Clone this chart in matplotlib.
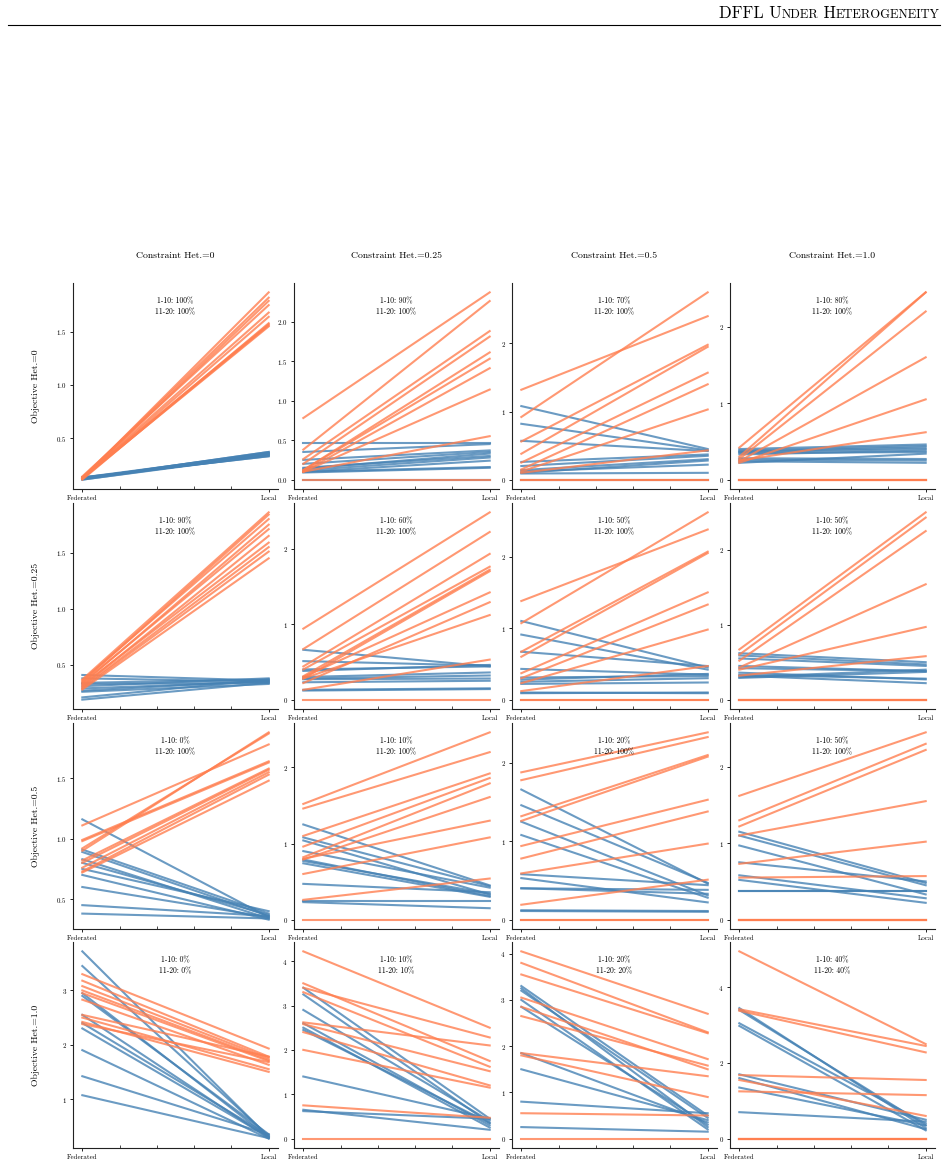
import matplotlib.pyplot as plt
from matplotlib.lines import Line2D
from matplotlib.ticker import MultipleLocator

plt.rcParams['font.family'] = ['cmr10', 'DejaVu Serif']
plt.rcParams['axes.formatter.use_mathtext'] = True
plt.rcParams['mathtext.fontset'] = 'cm'

col_titles = ['Constraint Het.=0', 'Constraint Het.=0.25', 'Constraint Het.=0.5', 'Constraint Het.=1.0']
row_labels = ['Objective Het.=0', 'Objective Het.=0.25', 'Objective Het.=0.5', 'Objective Het.=1.0']
x_labels = ['Federated', 'Local']
pct_1_10 = [[100, 90, 70, 80], [90, 60, 50, 50], [0, 10, 20, 50], [0, 10, 20, 40]]
pct_11_20 = [[100, 100, 100, 100], [100, 100, 100, 100], [100, 100, 100, 100], [0, 10, 20, 40]]
y_steps = [[0.5, 0.5, 1, 1], [0.5, 1, 1, 1], [0.5, 1, 1, 1], [1, 1, 1, 2]]

# (federated, local) per client: clients 1-10 blue, 11-20 orange
blue_0_0 = [(0.12, 0.37), (0.13, 0.36), (0.11, 0.35), (0.12, 0.34), (0.13, 0.33), (0.12, 0.36), (0.12, 0.35), (0.11, 0.34), (0.13, 0.33), (0.12, 0.37)]
orange_0_0 = [(0.12, 1.87), (0.13, 1.82), (0.12, 1.79), (0.14, 1.75), (0.13, 1.68), (0.12, 1.64), (0.11, 1.58), (0.13, 1.57), (0.12, 1.56), (0.12, 1.55)]
blue_0_1 = [(0.46, 0.46), (0.35, 0.45), (0.25, 0.37), (0.20, 0.35), (0.15, 0.30), (0.12, 0.28), (0.10, 0.24), (0.10, 0.16), (0.09, 0.15), (0.14, 0.33), (0.0, 0.0)]
orange_0_1 = [(0.78, 2.37), (0.38, 2.26), (0.26, 1.88), (0.20, 1.81), (0.12, 1.61), (0.12, 1.53), (0.10, 1.41), (0.10, 1.14), (0.10, 0.55), (0.0, 0.0)]
blue_0_2 = [(1.08, 0.45), (0.82, 0.43), (0.57, 0.42), (0.26, 0.37), (0.20, 0.35), (0.14, 0.30), (0.12, 0.22), (0.09, 0.10), (0.10, 0.28), (0.0, 0.0)]
orange_0_2 = [(1.32, 2.40), (0.92, 2.75), (0.56, 1.98), (0.38, 1.95), (0.25, 1.57), (0.15, 1.40), (0.12, 1.03), (0.10, 0.43), (0.0, 0.0), (0.0, 0.0)]
blue_0_3 = [(0.40, 0.46), (0.38, 0.44), (0.36, 0.40), (0.35, 0.36), (0.33, 0.38), (0.28, 0.27), (0.26, 0.25), (0.24, 0.22), (0.22, 0.34), (0.37, 0.42)]
orange_0_3 = [(0.42, 2.45), (0.30, 2.45), (0.27, 2.20), (0.24, 1.60), (0.22, 1.05), (0.25, 0.62), (0.0, 0.0), (0.0, 0.0), (0.0, 0.0), (0.0, 0.0)]

blue_1_0 = [(0.41, 0.36), (0.38, 0.35), (0.34, 0.37), (0.33, 0.34), (0.31, 0.38), (0.29, 0.35), (0.27, 0.36), (0.26, 0.33), (0.21, 0.37), (0.19, 0.34)]
orange_1_0 = [(0.37, 1.86), (0.35, 1.84), (0.36, 1.80), (0.33, 1.75), (0.34, 1.71), (0.31, 1.65), (0.32, 1.59), (0.30, 1.55), (0.29, 1.51), (0.28, 1.45)]
blue_1_1 = [(0.66, 0.44), (0.51, 0.45), (0.40, 0.44), (0.38, 0.46), (0.30, 0.36), (0.28, 0.32), (0.27, 0.28), (0.23, 0.25), (0.13, 0.15), (0.12, 0.14)]
orange_1_1 = [(0.94, 2.48), (0.67, 2.22), (0.44, 1.93), (0.40, 1.76), (0.31, 1.72), (0.28, 1.70), (0.30, 1.42), (0.22, 1.29), (0.28, 1.12), (0.13, 0.53), (0.0, 0.0)]
blue_1_2 = [(1.10, 0.45), (0.91, 0.42), (0.67, 0.47), (0.43, 0.35), (0.31, 0.33), (0.28, 0.36), (0.25, 0.30), (0.22, 0.24), (0.10, 0.09), (0.09, 0.10)]
orange_1_2 = [(1.38, 2.38), (1.07, 2.62), (0.67, 2.07), (0.60, 2.05), (0.37, 1.50), (0.30, 1.33), (0.23, 0.98), (0.12, 0.47), (0.0, 0.0), (0.0, 0.0)]
blue_1_3 = [(0.62, 0.50), (0.59, 0.47), (0.55, 0.45), (0.45, 0.38), (0.42, 0.38), (0.36, 0.27), (0.32, 0.22), (0.30, 0.40), (0.33, 0.28), (0.29, 0.37)]
orange_1_3 = [(0.67, 2.50), (0.60, 2.43), (0.52, 2.25), (0.43, 1.54), (0.40, 0.97), (0.32, 0.58), (0.0, 0.0), (0.0, 0.0), (0.0, 0.0), (0.0, 0.0)]

blue_2_0 = [(1.16, 0.35), (0.91, 0.38), (0.89, 0.36), (0.83, 0.34), (0.80, 0.37), (0.75, 0.40), (0.70, 0.33), (0.60, 0.35), (0.45, 0.36), (0.38, 0.34)]
orange_2_0 = [(1.11, 1.78), (0.99, 1.64), (0.98, 1.63), (0.92, 1.87), (0.90, 1.88), (0.82, 1.58), (0.80, 1.57), (0.76, 1.55), (0.73, 1.53), (0.72, 1.48)]
blue_2_1 = [(1.25, 0.45), (1.08, 0.44), (1.04, 0.33), (0.90, 0.42), (0.79, 0.31), (0.77, 0.34), (0.74, 0.30), (0.47, 0.36), (0.25, 0.25), (0.23, 0.15)]
orange_2_1 = [(1.52, 2.46), (1.46, 2.20), (1.10, 1.92), (0.96, 1.86), (0.82, 1.79), (0.79, 1.61), (0.80, 1.30), (0.60, 1.08), (0.26, 0.54), (0.0, 0.0)]
blue_2_2 = [(1.66, 0.46), (1.46, 0.47), (1.25, 0.31), (1.08, 0.28), (0.58, 0.44), (0.53, 0.22), (0.40, 0.38), (0.12, 0.11), (0.11, 0.10), (0.40, 0.33)]
orange_2_2 = [(1.88, 2.39), (1.78, 2.33), (1.32, 2.10), (1.26, 2.08), (0.94, 1.53), (0.78, 1.38), (0.59, 0.97), (0.19, 0.51), (0.0, 0.0), (0.0, 0.0)]
blue_2_3 = [(1.15, 0.48), (1.10, 0.45), (0.97, 0.33), (0.75, 0.50), (0.58, 0.28), (0.52, 0.22), (0.37, 0.37), (0.38, 0.38)]
orange_2_3 = [(1.62, 2.45), (1.30, 2.30), (1.22, 2.22), (1.10, 1.55), (0.73, 1.02), (0.55, 0.57), (0.0, 0.0), (0.0, 0.0), (0.0, 0.0), (0.0, 0.0)]

blue_3_0 = [(3.72, 0.30), (3.45, 0.32), (2.95, 0.30), (2.90, 0.35), (2.55, 0.28), (2.40, 0.33), (2.30, 0.30), (1.90, 0.27), (1.42, 0.35), (1.07, 0.28)]
orange_3_0 = [(3.30, 1.93), (3.18, 1.78), (3.08, 1.75), (3.00, 1.72), (2.95, 1.70), (2.83, 1.63), (2.55, 1.78), (2.50, 1.55), (2.42, 1.50), (2.38, 1.68)]
blue_3_1 = [(3.40, 0.45), (3.25, 0.35), (2.90, 0.40), (2.60, 0.30), (2.50, 0.25), (2.45, 0.35), (1.40, 0.45), (0.65, 0.20), (0.62, 0.45)]
orange_3_1 = [(4.22, 2.50), (3.50, 1.75), (3.40, 2.28), (3.30, 1.62), (2.62, 2.10), (2.58, 1.52), (2.40, 1.20), (2.00, 1.15), (0.75, 0.47), (0.0, 0.0)]
blue_3_2 = [(3.30, 0.50), (3.25, 0.25), (3.20, 0.45), (3.00, 0.20), (2.85, 0.30), (1.85, 0.35), (1.50, 0.40), (0.80, 0.55), (0.25, 0.15)]
orange_3_2 = [(4.05, 2.70), (3.80, 2.30), (3.55, 2.28), (3.05, 1.72), (2.85, 1.50), (2.65, 1.58), (1.85, 1.35), (1.80, 0.90), (0.55, 0.50), (0.0, 0.0)]
blue_3_3 = [(3.45, 0.28), (3.40, 0.35), (3.05, 0.40), (2.98, 0.22), (1.70, 0.50), (1.60, 0.25), (1.35, 0.35), (0.70, 0.45)]
orange_3_3 = [(4.95, 2.50), (3.42, 2.45), (3.38, 2.28), (1.68, 1.55), (1.25, 1.15), (1.55, 0.60), (0.0, 0.0), (0.0, 0.0), (0.0, 0.0), (0.0, 0.0)]

blue = [[blue_0_0, blue_0_1, blue_0_2, blue_0_3],
        [blue_1_0, blue_1_1, blue_1_2, blue_1_3],
        [blue_2_0, blue_2_1, blue_2_2, blue_2_3],
        [blue_3_0, blue_3_1, blue_3_2, blue_3_3]]
orange = [[orange_0_0, orange_0_1, orange_0_2, orange_0_3],
          [orange_1_0, orange_1_1, orange_1_2, orange_1_3],
          [orange_2_0, orange_2_1, orange_2_2, orange_2_3],
          [orange_3_0, orange_3_1, orange_3_2, orange_3_3]]

W, H = 948, 1161
fig = plt.figure(figsize=(W / 100, H / 100), dpi=100)

# panel geometry in pixels
lefts = [73, 294, 512, 730]
tops = [283, 503, 723, 942]
aw, ah = 205, 206

for r in range(4):
    for c in range(4):
        ax = fig.add_axes([lefts[c] / W, (H - tops[r] - ah) / H, aw / W, ah / H])
        for f, l in blue[r][c]:
            ax.plot([0, 1], [f, l], color='steelblue', alpha=0.8, lw=1.5)
        for f, l in orange[r][c]:
            ax.plot([0, 1], [f, l], color='coral', alpha=0.8, lw=1.5)

        ax.set_xticks([0, 1], x_labels)
        ax.xaxis.set_minor_locator(MultipleLocator(0.2))
        ax.yaxis.set_major_locator(MultipleLocator(y_steps[r][c]))
        ax.spines[['top', 'right']].set_visible(False)
        for s in ['left', 'bottom']:
            ax.spines[s].set_linewidth(0.8)
            ax.spines[s].set_color('#222222')
        ax.tick_params(which='major', direction='out', length=2.5, width=0.6, labelsize=5, pad=2)
        ax.tick_params(which='minor', axis='x', direction='in', length=2, width=0.5)

        ax.text(0.5, 0.885, f'1-10: {pct_1_10[r][c]}%\n11-20: {pct_11_20[r][c]}%',
                transform=ax.transAxes, ha='center', va='center', fontsize=5.5,
                linespacing=1.25)

        if r == 0:
            ax.text(0.5, 1.13, col_titles[c], transform=ax.transAxes,
                    ha='center', va='center', fontsize=7)
        if c == 0:
            fig.text(36 / W, 1 - (tops[r] + ah / 2) / H, row_labels[r], rotation=90,
                     ha='center', va='center', fontsize=7)

# running header with small caps
renderer = fig.canvas.get_renderer()
parts = [('DFFL U', 12), ('NDER', 9), (' H', 12), ('ETEROGENEITY', 9)]
texts = [fig.text(0, 1 - 18.5 / H, s, fontsize=sz, va='baseline', ha='left') for s, sz in parts]
widths = [t.get_window_extent(renderer).width for t in texts]
x = 940 - sum(widths)
for t, w in zip(texts, widths):
    t.set_x(x / W)
    x += w
fig.add_artist(Line2D([8 / W, 940 / W], [1 - 25 / H, 1 - 25 / H], color='black', lw=0.8))

fig.savefig('out.png', dpi=100)
